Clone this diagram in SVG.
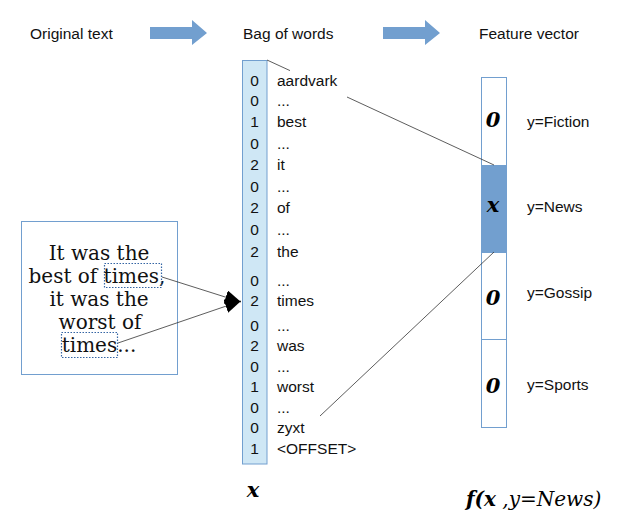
<svg xmlns="http://www.w3.org/2000/svg" width="640" height="531" viewBox="0 0 640 531">
<style>
.s{font-family:"Liberation Sans",Arial,sans-serif;font-size:15.5px;fill:#111}
.d{font-family:"Liberation Sans",Arial,sans-serif;font-size:15.5px;fill:#111;text-anchor:middle}
.serif{font-family:"DejaVu Serif",serif;font-size:20px;fill:#111;text-anchor:middle}
.bi{font-family:"DejaVu Serif",serif;font-weight:bold;font-style:italic;font-size:21px;fill:#000;text-anchor:middle}
.con{stroke:#333;stroke-width:0.8;fill:none}
.blk{fill:#729fcf}
.dot{fill:none;stroke:#3465a4;stroke-width:1.2;stroke-dasharray:1.5 1.5}
</style>
<defs>
<marker id="ah" markerUnits="userSpaceOnUse" markerWidth="17" markerHeight="14" refX="16" refY="7" orient="auto">
<path d="M0,0 L16,7 L0,14 Z" fill="#000"/>
</marker>
</defs>
<rect width="640" height="531" fill="#fff"/>
<g id="headers">
<text class="s" x="30" y="39">Original text</text>
<text class="s" x="243" y="39">Bag of words</text>
<text class="s" x="479" y="39">Feature vector</text>
<polygon class="blk" points="150,27 192,27 192,20 207,33 192,45 192,39 150,39"/>
<polygon class="blk" points="383,27 425,27 425,20 440,33 425,45 425,39 383,39"/>
</g>
<g id="original-text">
<rect x="21.5" y="221.5" width="156" height="153" fill="#fff" stroke="#729fcf" stroke-width="1"/>
<text class="serif" x="99" y="260">It was the</text>
<text class="serif" x="97" y="283">best of times,</text>
<text class="serif" x="99" y="306">it was the</text>
<text class="serif" x="100" y="329">worst of</text>
<text class="serif" x="99" y="352">times...</text>
<rect class="dot" x="104.5" y="263.5" width="57" height="24"/>
<rect class="dot" x="61.5" y="332.5" width="56" height="25"/>
</g>
<g id="bag-of-words">
<rect x="242.5" y="60.5" width="24.5" height="403.5" fill="#cfe7f5" stroke="#729fcf" stroke-width="1"/>
<text class="d" x="254.5" y="86">0</text><text class="s" x="277" y="86">aardvark</text>
<text class="d" x="254.5" y="106">0</text><text class="s" x="277" y="106">...</text>
<text class="d" x="254.5" y="127">1</text><text class="s" x="277" y="127">best</text>
<text class="d" x="254.5" y="149">0</text><text class="s" x="277" y="149">...</text>
<text class="d" x="254.5" y="170">2</text><text class="s" x="277" y="170">it</text>
<text class="d" x="254.5" y="191.5">0</text><text class="s" x="277" y="191.5">...</text>
<text class="d" x="254.5" y="213">2</text><text class="s" x="277" y="213">of</text>
<text class="d" x="254.5" y="235">0</text><text class="s" x="277" y="235">...</text>
<text class="d" x="254.5" y="257">2</text><text class="s" x="277" y="257">the</text>
<text class="d" x="254.5" y="285.5">0</text><text class="s" x="277" y="285.5">...</text>
<text class="d" x="254.5" y="305.5">2</text><text class="s" x="277" y="305.5">times</text>
<text class="d" x="254.5" y="331">0</text><text class="s" x="277" y="331">...</text>
<text class="d" x="254.5" y="350.5">2</text><text class="s" x="277" y="350.5">was</text>
<text class="d" x="254.5" y="371.5">0</text><text class="s" x="277" y="371.5">...</text>
<text class="d" x="254.5" y="392">1</text><text class="s" x="277" y="392">worst</text>
<text class="d" x="254.5" y="413">0</text><text class="s" x="277" y="413">...</text>
<text class="d" x="254.5" y="433">0</text><text class="s" x="277" y="433">zyxt</text>
<text class="d" x="254.5" y="454">1</text><text class="s" x="277" y="454">&lt;OFFSET&gt;</text>
<text class="bi" x="253" y="497" font-size="19">x</text>
</g>
<g id="feature-vector">
<rect x="481.5" y="77.5" width="25" height="88" fill="#fff" stroke="#729fcf"/>
<rect x="481.5" y="165.5" width="25" height="87" fill="#729fcf" stroke="#729fcf"/>
<rect x="481.5" y="252.5" width="25" height="87" fill="#fff" stroke="#729fcf"/>
<rect x="481.5" y="339.5" width="25" height="88" fill="#fff" stroke="#729fcf"/>
<text class="bi" x="493" y="127">0</text>
<text class="bi" x="493" y="212" font-size="23">x</text>
<text class="bi" x="493" y="305">0</text>
<text class="bi" x="493" y="393">0</text>
<text class="s" x="527" y="127">y=Fiction</text>
<text class="s" x="527" y="212">y=News</text>
<text class="s" x="527" y="298">y=Gossip</text>
<text class="s" x="527" y="390">y=Sports</text>
<text x="466" y="506" font-family="DejaVu Serif, serif" font-size="20" font-style="italic" fill="#000"><tspan font-weight="bold">f(x</tspan> ,y=News)</text>
</g>
<g id="connectors">
<line class="con" x1="162" y1="277" x2="241" y2="302" marker-end="url(#ah)"/>
<line class="con" x1="118" y1="343" x2="241" y2="301" marker-end="url(#ah)"/>
<line class="con" x1="267" y1="60" x2="290" y2="70.6"/>
<line class="con" x1="347" y1="97" x2="494" y2="165"/>
<line class="con" x1="494" y1="252" x2="320" y2="416"/>
</g>
</svg>
